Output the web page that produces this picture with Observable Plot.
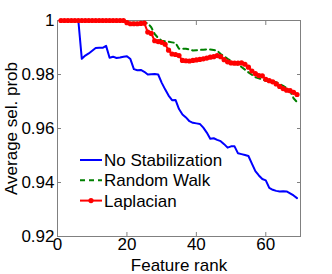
<!DOCTYPE html>
<html>
<head>
<meta charset="utf-8">
<script src="https://cdn.jsdelivr.net/npm/d3@7"></script>
<script src="https://cdn.jsdelivr.net/npm/@observablehq/plot@0.6"></script>
<style>
  html, body { margin: 0; padding: 0; background: #fff; }
  #wrap { position: relative; width: 332px; height: 274px; font-family: "Liberation Sans", Arial, sans-serif; }
  #legend { position: absolute; left: 78px; top: 149px; }
</style>
</head>
<body>
<div id="wrap"><div id="legend"></div></div>
<script>
const ranks = d3.range(1, 70);
const noStabilization = [1,1,1,1,1,1,0.9858,0.9870,0.9878,0.9888,0.9898,0.9899,0.9899,0.9906,0.9862,0.9866,0.9861,0.9863,0.9866,0.9868,
  0.9857,0.9820,0.9816,0.9817,0.9810,0.9800,0.9801,0.9802,0.9800,0.9770,0.9745,0.9722,0.9705,0.9706,0.9672,0.9652,0.9641,0.9627,0.9621,0.9619,
  0.9617,0.9603,0.9585,0.9562,0.9564,0.9558,0.9553,0.9542,0.9529,0.9534,0.9534,0.9508,0.9505,0.9502,0.9498,0.9470,0.9442,0.9426,0.9413,0.9408,
  0.9380,0.9373,0.9369,0.9367,0.9368,0.9367,0.9360,0.9352,0.9342];
const randomWalk = [1,1,1,1,1,1,1,1,1,1,1,1,1,1,1,1,1,1,1,0.9995,
  0.9993,0.9992,0.9992,0.9991,0.9991,0.9990,0.9975,0.9950,0.9935,0.9925,0.9923,0.9921,0.9919,0.9917,0.9895,0.9895,0.9895,0.9893,0.9889,0.9890,
  0.9891,0.9892,0.9893,0.9893,0.9891,0.9888,0.9876,0.9867,0.9858,0.9850,0.9842,0.9836,0.9828,0.9818,0.9808,0.9799,0.9790,0.9786,0.9781,0.9777,
  0.9775,0.9773,0.9771,0.9765,0.9758,0.9750,0.9740,0.9712,0.9698];
const laplacian = [1,1,1,1,1,1,1,1,1,1,1,1,1,1,1,1,1,1,1,0.9992,
  0.9988,0.9988,0.9988,0.9989,0.9990,0.9957,0.9952,0.9925,0.9922,0.9919,0.9912,0.9890,0.9876,0.9874,0.9870,0.9852,0.9851,0.9850,0.9852,0.9854,
  0.9856,0.9858,0.9861,0.9864,0.9866,0.9870,0.9866,0.9855,0.9847,0.9843,0.9842,0.9842,0.9843,0.9838,0.9827,0.9813,0.9803,0.9796,0.9795,0.9782,
  0.9777,0.9773,0.9765,0.9756,0.9748,0.9742,0.9740,0.9734,0.9726];
const seriesNames = ["No Stabilization", "Random Walk", "Laplacian"];
const seriesColors = ["#0000ff", "#008000", "#ff0000"];
const xTicks = [0, 20, 40, 60];
const yTicks = [0.92, 0.94, 0.96, 0.98, 1];
const yTickLabels = ["0.92", "0.94", "0.96", "0.98", "1"];

const rows = (vals) => ranks.map((r, i) => ({rank: r, value: vals[i]}));
const blue = rows(noStabilization), green = rows(randomWalk), red = rows(laplacian);
const grey = "#808080";
const fmtY = d => yTickLabels[yTicks.indexOf(d)];

const chart = Plot.plot({
  width: 332, height: 274,
  marginLeft: 57, marginRight: 32, marginTop: 20, marginBottom: 38,
  style: {fontFamily: "Liberation Sans, Arial, sans-serif", fontSize: "16px", color: "#000", background: "#fff"},
  x: {domain: [0, 70]},
  y: {domain: [0.92, 1]},
  marks: [
    Plot.frame({stroke: grey, strokeWidth: 1}),
    Plot.axisX(xTicks, {anchor: "bottom", tickSize: 4, dy: -4, stroke: grey, text: null, label: null}),
    Plot.axisX(xTicks, {anchor: "top", tickSize: 4, dy: 4, stroke: grey, text: null, label: null}),
    Plot.axisY(yTicks, {anchor: "left", tickSize: 4, dx: 4, stroke: grey, text: null, label: null}),
    Plot.axisY(yTicks, {anchor: "right", tickSize: 4, dx: -4, stroke: grey, text: null, label: null}),
    Plot.axisX(xTicks, {anchor: "bottom", tickSize: 0, tickPadding: 1, fontSize: 17, fill: "#000",
      label: "Feature rank", labelAnchor: "center", labelArrow: "none", labelOffset: 34}),
    Plot.axisY(yTicks, {anchor: "left", tickSize: 0, tickPadding: 3, fontSize: 17, fill: "#000", tickFormat: fmtY,
      label: "Average sel. prob", labelAnchor: "center", labelArrow: "none", labelOffset: 53}),
    Plot.line(blue, {x: "rank", y: "value", stroke: seriesColors[0], strokeWidth: 2}),
    Plot.line(green, {x: "rank", y: "value", stroke: seriesColors[1], strokeWidth: 2, strokeDasharray: "5,4"}),
    Plot.line(red, {x: "rank", y: "value", stroke: seriesColors[2], strokeWidth: 2}),
    Plot.dot(red, {x: "rank", y: "value", fill: seriesColors[2], r: 2.6, stroke: "none"})
  ]
});
document.getElementById("wrap").insertBefore(chart, document.getElementById("legend"));
chart.style.position = "absolute"; chart.style.left = "0"; chart.style.top = "0";

// Legend
const lg = d3.select("#legend").append("svg").attr("width", 160).attr("height", 66)
  .style("font-family", "Liberation Sans, Arial, sans-serif");
const dashes = [null, "5,4", null];
seriesNames.forEach((name, i) => {
  const g = lg.append("g").attr("transform", `translate(0, ${11 + i * 20.3})`);
  g.append("line").attr("x1", 2).attr("x2", 24).attr("y1", 0).attr("y2", 0)
    .attr("stroke", seriesColors[i]).attr("stroke-width", 2).attr("stroke-dasharray", dashes[i]);
  if (i === 2) g.append("circle").attr("cx", 13).attr("cy", 0).attr("r", 2.6).attr("fill", seriesColors[i]);
  g.append("text").attr("x", 26).attr("y", 0).attr("dy", "0.35em").attr("font-size", 17).attr("fill", "#000").text(name);
});
</script>
</body>
</html>
